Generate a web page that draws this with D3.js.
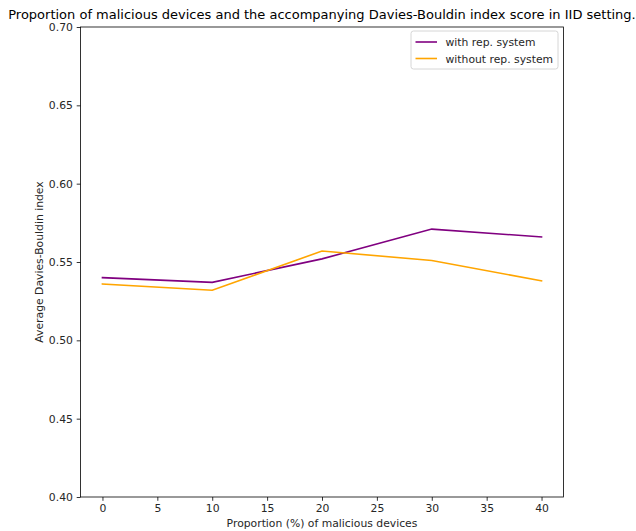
<!DOCTYPE html>
<html><head><meta charset="utf-8">
<script src="https://cdn.jsdelivr.net/npm/d3@7"></script>
<style>body{margin:0;background:#fff}svg{display:block}text{font-family:"DejaVu Sans",sans-serif}</style>
</head><body>
<script>
const proportions = [0, 10, 20, 30, 40];
const withRep = [0.540, 0.537, 0.552, 0.571, 0.566];
const withoutRep = [0.536, 0.532, 0.557, 0.551, 0.538];
const xTicks = [0, 5, 10, 15, 20, 25, 30, 35, 40];
const yTicks = [0.40, 0.45, 0.50, 0.55, 0.60, 0.65, 0.70];
const seriesNames = ["with rep. system", "without rep. system"];
const colors = ["#800080", "#FFA500"];

const W = 636, H = 531;
const fs = 10.8;
const m = {left: 80.5, right: 563.5, top: 27, bottom: 497};
const svg = d3.select("body").append("svg").attr("width", W).attr("height", H);
const x = d3.scaleLinear().domain([-2, 42]).range([m.left, m.right]);
const y = d3.scaleLinear().domain([0.40, 0.70]).range([m.bottom, m.top]);

const line = d3.line().x((d, i) => x(proportions[i])).y(d => y(d));
[withRep, withoutRep].forEach((s, k) => {
  svg.append("path").datum(s).attr("d", line).attr("fill", "none")
    .attr("stroke", colors[k]).attr("stroke-width", 1.6).attr("stroke-linecap", "square");
});

const xAxis = svg.append("g").attr("transform", `translate(0,${m.bottom})`)
  .call(d3.axisBottom(x).tickValues(xTicks).tickFormat(d3.format("d")).tickSize(3.8).tickPadding(3.8));
const yAxis = svg.append("g").attr("transform", `translate(${m.left},0)`)
  .call(d3.axisLeft(y).tickValues(yTicks).tickFormat(d3.format(".2f")).tickSize(3.8).tickPadding(3.8));
[xAxis, yAxis].forEach(a => {
  a.select(".domain").remove();
  a.selectAll("line").attr("stroke", "#000").attr("stroke-width", 0.8);
  a.selectAll("text").attr("font-size", fs).attr("fill", "#262626").attr("font-family", "DejaVu Sans");
});
svg.append("rect").attr("x", m.left).attr("y", m.top).attr("width", m.right - m.left)
  .attr("height", m.bottom - m.top).attr("fill", "none").attr("stroke", "#000").attr("stroke-width", 0.8);

svg.append("text").attr("x", (m.left + m.right) / 2).attr("y", 19).attr("text-anchor", "middle")
  .attr("font-size", 13).attr("fill", "#000")
  .text("Proportion of malicious devices and the accompanying Davies-Bouldin index score in IID setting.");
svg.append("text").attr("x", (m.left + m.right) / 2).attr("y", 527).attr("text-anchor", "middle")
  .attr("font-size", fs).attr("fill", "#262626").text("Proportion (%) of malicious devices");
svg.append("text").attr("transform", `translate(43,${(m.top + m.bottom) / 2}) rotate(-90)`)
  .attr("text-anchor", "middle").attr("font-size", fs).attr("fill", "#262626").text("Average Davies-Bouldin index");

const lg = svg.append("g").attr("transform", "translate(411,31)");
lg.append("rect").attr("width", 147).attr("height", 38).attr("rx", 2.5)
  .attr("fill", "#fff").attr("fill-opacity", 0.8).attr("stroke", "#ccc").attr("stroke-width", 0.8);
seriesNames.forEach((n, k) => {
  const yy = 11 + k * 16.5;
  lg.append("line").attr("x1", 4.5).attr("x2", 26).attr("y1", yy).attr("y2", yy)
    .attr("stroke", colors[k]).attr("stroke-width", 1.6);
  lg.append("text").attr("x", 34.5).attr("y", yy + 4).attr("font-size", fs).attr("fill", "#262626").text(n);
});
</script>
</body></html>
